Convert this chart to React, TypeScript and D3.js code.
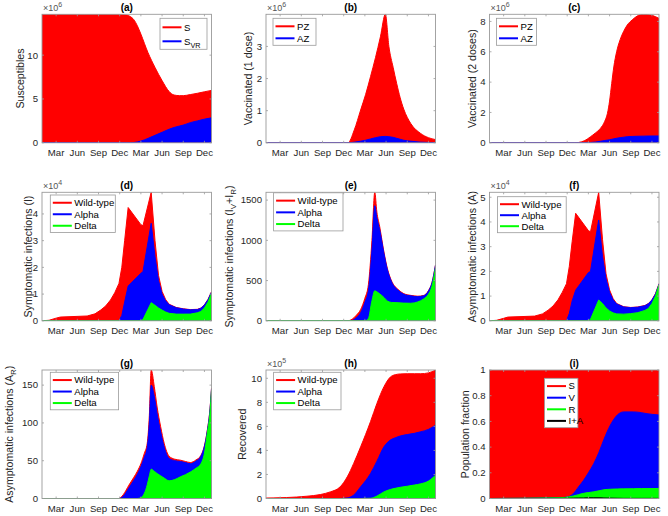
import React from "react";
import * as d3 from "d3";

// month offsets from Jan 2020
const monthTicks = [2, 5, 8, 11, 14, 17, 20, 23];
const monthLabels = ["Mar", "Jun", "Sep", "Dec", "Mar", "Jun", "Sep", "Dec"];

// (a) susceptibles, x10^6
const tA = [0, 6, 11, 12, 12.5, 13, 13.5, 14, 15, 16, 17, 18, 18.7, 19.5, 20, 21, 22, 23, 24];
const susS = [14.66, 14.66, 14.64, 14.58, 14.4, 14.05, 13.35, 12.4, 10.3, 8.6, 7.1, 5.85, 5.45, 5.38, 5.38, 5.5, 5.65, 5.82, 5.98];
const susSVR = [0, 0, 0, 0, 0, 0.03, 0.1, 0.2, 0.5, 0.85, 1.2, 1.55, 1.75, 1.92, 2.02, 2.3, 2.5, 2.7, 2.85];

// (b) vaccinated 1 dose, x10^6
const tB = [0, 11, 11.6, 12.5, 13.4, 14.1, 14.8, 15.5, 16.2, 16.9, 17.4, 18.0, 18.5, 19.0, 19.5, 20.5, 21.9, 23, 24];
const vac1PZ = [0, 0, 0, 0.4, 1.02, 1.5, 2.06, 2.65, 3.3, 4.0, 3.0, 2.35, 1.85, 1.4, 1.05, 0.6, 0.29, 0.16, 0.1];
const vac1AZ = [0, 0, 0, 0.02, 0.05, 0.08, 0.12, 0.16, 0.19, 0.2, 0.19, 0.17, 0.14, 0.11, 0.08, 0.05, 0.02, 0.01, 0.005];

// (c) vaccinated 2 doses, x10^6
const tC = [0, 12, 12.6, 13.5, 14.3, 15, 15.7, 16.3, 16.7, 17.0, 17.3, 17.6, 18.0, 18.5, 19.0, 19.5, 20.2, 20.9, 21.8, 23, 24];
const vac2PZ = [0, 0, 0.02, 0.15, 0.4, 0.65, 0.95, 1.4, 1.94, 2.75, 3.9, 5.0, 6.0, 6.8, 7.35, 7.76, 8.1, 8.35, 8.47, 8.4, 8.2];
const vac2AZ = [0, 0, 0, 0, 0.02, 0.05, 0.1, 0.15, 0.18, 0.2, 0.23, 0.26, 0.3, 0.34, 0.37, 0.4, 0.42, 0.43, 0.44, 0.45, 0.45];

// (d) symptomatic I, x10^4  and (f) asymptomatic A, x10^4
const tD = [0, 1, 2, 2.6, 6.4, 7.5, 8.3, 9.0, 9.7, 10.3, 10.9, 11.3, 11.7, 12.2, 14.0, 14.3, 15.46, 16.0, 16.5, 17.0, 17.5, 18.0, 19.0, 20.0, 21.0, 22.0, 22.5, 23.0, 23.5, 24];
const symWild = [0, 0.02, 0.1, 0.14, 0.18, 0.26, 0.4, 0.55, 0.78, 1.05, 1.4, 2.0, 3.0, 4.24, 3.6, 3.56, 4.81, 3.0, 1.7, 1.1, 0.8, 0.62, 0.5, 0.45, 0.42, 0.43, 0.48, 0.6, 0.8, 1.09];
const symAlpha = [0, 0, 0, 0, 0, 0, 0, 0, 0, 0, 0, 0.2, 0.7, 1.3, 1.78, 1.84, 3.65, 2.4, 1.5, 1.0, 0.75, 0.6, 0.49, 0.44, 0.41, 0.42, 0.47, 0.59, 0.79, 1.07];
const symDelta = [0, 0, 0, 0, 0, 0, 0, 0, 0, 0, 0, 0, 0, 0, 0, 0.05, 0.68, 0.58, 0.48, 0.4, 0.33, 0.28, 0.25, 0.25, 0.25, 0.3, 0.35, 0.48, 0.7, 1.02];
const asymWild = [0, 0.02, 0.1, 0.15, 0.19, 0.28, 0.43, 0.6, 0.85, 1.15, 1.5, 2.2, 3.2, 4.35, 3.65, 3.6, 5.2, 3.3, 1.9, 1.25, 0.9, 0.7, 0.57, 0.54, 0.56, 0.62, 0.7, 0.85, 1.1, 1.5];
const asymAlpha = [0, 0, 0, 0, 0, 0, 0, 0, 0, 0, 0, 0.3, 0.8, 1.24, 1.95, 2.0, 4.08, 2.6, 1.7, 1.15, 0.85, 0.68, 0.56, 0.53, 0.55, 0.61, 0.69, 0.84, 1.08, 1.48];
const asymDelta = [0, 0, 0, 0, 0, 0, 0, 0, 0, 0, 0, 0, 0, 0, 0, 0.06, 0.84, 0.7, 0.52, 0.4, 0.32, 0.28, 0.27, 0.29, 0.33, 0.42, 0.5, 0.7, 1.0, 1.45];

// (e) symptomatic IV+IR
const tE = [0, 11.5, 12.2, 12.8, 13.4, 14.0, 14.5, 15.0, 15.4, 15.7, 16.1, 16.7, 17.2, 17.8, 18.7, 19.5, 20.5, 21.5, 22.3, 23.0, 23.5, 24];
const symRWild = [0, 0, 20, 70, 140, 280, 450, 1000, 1597, 1350, 1170, 855, 645, 492, 390, 338, 316, 306, 315, 375, 475, 695];
const symRAlpha = [0, 0, 5, 40, 100, 230, 380, 880, 1430, 1280, 1130, 837, 630, 480, 380, 330, 310, 300, 310, 370, 470, 692];
const symRDelta = [0, 0, 0, 0, 0, 0, 30, 250, 373, 360, 335, 290, 245, 228, 225, 220, 218, 235, 270, 330, 430, 660];

// (g) asymptomatic AR
const tG = [0, 10.9, 11.5, 12.3, 13.0, 13.5, 14.0, 14.5, 14.9, 15.2, 15.46, 15.9, 16.3, 16.8, 17.3, 18.0, 18.8, 19.6, 20.3, 21.0, 21.8, 22.5, 23.0, 23.4, 23.8, 24];
const asymRWild = [0, 0, 5, 17.6, 28, 36, 46, 60, 73, 110, 170, 148, 121, 95, 73, 56, 52, 50.7, 49, 47.6, 51, 57, 70, 90, 120, 146];
const asymRAlpha = [0, 0, 3, 14, 24, 32, 42, 55, 68, 100, 150, 135, 112, 88, 68, 53, 50, 49, 47.5, 46, 49.5, 56, 69, 89, 119, 145];
const asymRDelta = [0, 0, 0, 0, 0, 0, 1, 7, 18, 30, 38.8, 36, 33, 30, 27, 23.4, 25, 28.7, 31.5, 35, 40, 46, 60, 86, 115, 143];

// (h) recovered, x10^5
const tH = [0, 1, 2.9, 5.8, 7.7, 9.1, 10.5, 11.5, 12.4, 13.4, 14.8, 15.7, 16.7, 17.6, 18.3, 19.0, 20.0, 21.0, 21.9, 23.0, 24];
const recWild = [0.04, 0.05, 0.08, 0.19, 0.33, 0.55, 0.97, 1.8, 2.9, 4.3, 6.4, 7.9, 9.3, 10.1, 10.3, 10.36, 10.38, 10.38, 10.38, 10.45, 10.69];
const recAlpha = [0, 0, 0, 0, 0, 0, 0, 0.05, 0.28, 0.97, 2.08, 3.1, 4.3, 4.86, 5.05, 5.2, 5.32, 5.42, 5.55, 5.75, 6.1];
const recDelta = [0, 0, 0, 0, 0, 0, 0, 0, 0, 0, 0.02, 0.2, 0.55, 0.75, 0.85, 0.93, 1.02, 1.12, 1.22, 1.45, 1.94];

// (i) population fraction
const tI = [0, 10, 11.2, 11.9, 12.6, 13.3, 14.0, 14.75, 15.5, 16.2, 17.1, 18.1, 19.0, 20.4, 21.5, 22.3, 24];
const popS = [1, 1, 1, 1, 1, 1, 1, 1, 1, 1, 1, 1, 1, 1, 1, 1, 1];
const popV = [0, 0.006, 0.014, 0.04, 0.09, 0.14, 0.2, 0.27, 0.36, 0.46, 0.57, 0.65, 0.674, 0.674, 0.668, 0.66, 0.65];
const popR = [0, 0.006, 0.012, 0.02, 0.03, 0.04, 0.046, 0.052, 0.06, 0.068, 0.072, 0.074, 0.075, 0.076, 0.077, 0.077, 0.078];
const popIA = [0, 0.001, 0.002, 0.003, 0.004, 0.004, 0.005, 0.005, 0.005, 0.004, 0.003, 0.002, 0.001, 0.001, 0.001, 0.001, 0.001];

const RED = "#ff0000";
const BLUE = "#0000ff";
const GREEN = "#00ff00";
const BLACK = "#000000";
const AXIS = "#9a9a9a";
const FONT = "'Liberation Sans', Arial, Helvetica, sans-serif";

const colX = [42, 266, 489.5];
const rowY = [14.3, 192.3, 370];
const PW = 169.5;
const PH = 128.5;

type Part = { text: string; sub?: boolean };
type Series = { name: Part[]; color: string; t: number[]; v: number[] };
type Panel = {
  id: string;
  col: number;
  row: number;
  yTicks: number[];
  yMax?: number;
  exp?: number;
  ylabel: Part[];
  labelGap: number;
  curve: d3.CurveFactory;
  series: Series[];
  legend: { dx: number; dy: number; w: number; rowH: number };
};

const strains = (t: number[], w: number[], a: number[], d: number[]): Series[] => [
  { name: [{ text: "Wild-type" }], color: RED, t, v: w },
  { name: [{ text: "Alpha" }], color: BLUE, t, v: a },
  { name: [{ text: "Delta" }], color: GREEN, t, v: d },
];

const panels: Panel[] = [
  {
    id: "(a)", col: 0, row: 0, yTicks: [0, 5, 10], exp: 6,
    ylabel: [{ text: "Susceptibles" }], labelGap: 22, curve: d3.curveMonotoneX,
    series: [
      { name: [{ text: "S" }], color: RED, t: tA, v: susS },
      { name: [{ text: "S" }, { text: "VR", sub: true }], color: BLUE, t: tA, v: susSVR },
    ],
    legend: { dx: 118, dy: 4, w: 47, rowH: 14 },
  },
  {
    id: "(b)", col: 1, row: 0, yTicks: [0, 1, 2, 3], exp: 6,
    ylabel: [{ text: "Vaccinated (1 dose)" }], labelGap: 17.5, curve: d3.curveMonotoneX,
    series: [
      { name: [{ text: "PZ" }], color: RED, t: tB, v: vac1PZ },
      { name: [{ text: "AZ" }], color: BLUE, t: tB, v: vac1AZ },
    ],
    legend: { dx: 7, dy: 4, w: 43, rowH: 12 },
  },
  {
    id: "(c)", col: 2, row: 0, yTicks: [0, 2, 4, 6, 8], exp: 6,
    ylabel: [{ text: "Vaccinated (2 doses)" }], labelGap: 17, curve: d3.curveMonotoneX,
    series: [
      { name: [{ text: "PZ" }], color: RED, t: tC, v: vac2PZ },
      { name: [{ text: "AZ" }], color: BLUE, t: tC, v: vac2AZ },
    ],
    legend: { dx: 7, dy: 4, w: 40, rowH: 12 },
  },
  {
    id: "(d)", col: 0, row: 1, yTicks: [0, 1, 2, 3, 4], exp: 4,
    ylabel: [{ text: "Symptomatic infections (I)" }], labelGap: 14, curve: d3.curveLinear,
    series: strains(tD, symWild, symAlpha, symDelta),
    legend: { dx: 8.3, dy: 2.7, w: 65, rowH: 11.5 },
  },
  {
    id: "(e)", col: 1, row: 1, yTicks: [0, 500, 1000, 1500],
    ylabel: [{ text: "Symptomatic infections (I" }, { text: "V", sub: true }, { text: "+I" }, { text: "R", sub: true }, { text: ")" }],
    labelGap: 37, curve: d3.curveMonotoneX,
    series: strains(tE, symRWild, symRAlpha, symRDelta),
    legend: { dx: 7.6, dy: 0.5, w: 69.4, rowH: 11.7 },
  },
  {
    id: "(f)", col: 2, row: 1, yTicks: [0, 1, 2, 3, 4, 5], exp: 4,
    ylabel: [{ text: "Asymptomatic infections (A)" }], labelGap: 17, curve: d3.curveLinear,
    series: strains(tD, asymWild, asymAlpha, asymDelta),
    legend: { dx: 8, dy: 4.4, w: 68.7, rowH: 11 },
  },
  {
    id: "(g)", col: 0, row: 2, yTicks: [0, 50, 100, 150],
    ylabel: [{ text: "Asymptomatic infections (A" }, { text: "R", sub: true }, { text: ")" }],
    labelGap: 33, curve: d3.curveMonotoneX,
    series: strains(tG, asymRWild, asymRAlpha, asymRDelta),
    legend: { dx: 8.3, dy: 2.3, w: 68.3, rowH: 11.5 },
  },
  {
    id: "(h)", col: 1, row: 2, yTicks: [0, 2, 4, 6, 8, 10], exp: 5,
    ylabel: [{ text: "Recovered" }], labelGap: 23.5, curve: d3.curveMonotoneX,
    series: strains(tH, recWild, recAlpha, recDelta),
    legend: { dx: 7.6, dy: 2.3, w: 67.4, rowH: 11.5 },
  },
  {
    id: "(i)", col: 2, row: 2, yTicks: [0, 0.2, 0.4, 0.6, 0.8, 1], yMax: 1,
    ylabel: [{ text: "Population fraction" }], labelGap: 24.5, curve: d3.curveMonotoneX,
    series: [
      { name: [{ text: "S" }], color: RED, t: tI, v: popS },
      { name: [{ text: "V" }], color: BLUE, t: tI, v: popV },
      { name: [{ text: "R" }], color: GREEN, t: tI, v: popR },
      { name: [{ text: "I+A" }], color: BLACK, t: tI, v: popIA },
    ],
    legend: { dx: 55, dy: 8.3, w: 33.4, rowH: 11.6 },
  },
];

function spans(parts: Part[]) {
  let shift = 0;
  return parts.map((p, i) => {
    const target = p.sub ? 3 : 0;
    const dy = target - shift;
    shift = target;
    return (
      <tspan key={i} dy={dy !== 0 ? dy : undefined} fontSize={p.sub ? "0.75em" : undefined}>
        {p.text}
      </tspan>
    );
  });
}

function PanelView({ p }: { p: Panel }) {
  const left = colX[p.col];
  const top = rowY[p.row];
  const yMax = p.yMax ?? (d3.max(p.series.flatMap((s) => s.v)) as number);
  const x = d3.scaleLinear().domain([0, 24]).range([left, left + PW]);
  const y = d3.scaleLinear().domain([0, yMax]).range([top + PH, top]);
  const clipId = "clip" + p.id.replace(/[()]/g, "");
  const fmt = (v: number) => (Number.isInteger(v) ? String(v) : String(+v.toFixed(1)));
  const lg = p.legend;
  const lx = left + lg.dx;
  const ly = top + lg.dy;
  const lh = p.series.length * lg.rowH + 3;

  return (
    <g>
      <clipPath id={clipId}>
        <rect x={left} y={top} width={PW} height={PH} />
      </clipPath>
      <g clipPath={`url(#${clipId})`}>
        {p.series.map((s, k) => {
          const area = d3
            .area<number>()
            .x((_, i) => x(s.t[i]))
            .y0(y(0))
            .y1((d) => y(d))
            .curve(p.curve);
          return (
            <path key={k} d={area(s.v) || ""} fill={s.color} stroke={s.color} strokeWidth={1} strokeLinejoin="round" />
          );
        })}
      </g>
      {/* axes box and ticks */}
      <rect x={left} y={top} width={PW} height={PH} fill="none" stroke={AXIS} strokeWidth={0.9} />
      {monthTicks.map((m, i) => (
        <g key={"x" + i}>
          <line x1={x(m)} x2={x(m)} y1={top + PH} y2={top + PH - 2} stroke={AXIS} strokeWidth={0.8} />
          <line x1={x(m)} x2={x(m)} y1={top} y2={top + 2} stroke={AXIS} strokeWidth={0.8} />
          <text x={x(m)} y={top + PH + 13} textAnchor="middle" fontSize={9.6} fill="#262626">
            {monthLabels[i]}
          </text>
        </g>
      ))}
      {p.yTicks.map((v, i) => (
        <g key={"y" + i}>
          <line x1={left} x2={left + 2} y1={y(v)} y2={y(v)} stroke={AXIS} strokeWidth={0.8} />
          <line x1={left + PW} x2={left + PW - 2} y1={y(v)} y2={y(v)} stroke={AXIS} strokeWidth={0.8} />
          <text x={left - 4} y={y(v)} dy="0.35em" textAnchor="end" fontSize={9.6} fill="#262626">
            {fmt(v)}
          </text>
        </g>
      ))}
      {p.exp !== undefined && (
        <text x={left + 1} y={top - 3} fontSize={9} fill="#555">
          {"\u00d710"}
          <tspan dy={-4} fontSize={7}>
            {p.exp}
          </tspan>
        </text>
      )}
      <text x={left + PW / 2} y={top - 3} textAnchor="middle" fontSize={10} fontWeight="bold" fill="#000">
        {p.id}
      </text>
      <text
        transform={`translate(${left - p.labelGap},${top + PH / 2}) rotate(-90)`}
        textAnchor="middle"
        dy="0.35em"
        fontSize={10.6}
        fill="#262626"
      >
        {spans(p.ylabel)}
      </text>
      {/* legend */}
      <rect x={lx} y={ly} width={lg.w} height={lh} fill="#fff" stroke={AXIS} strokeWidth={0.8} />
      {p.series.map((s, k) => {
        const cy = ly + 2 + lg.rowH * (k + 0.5);
        return (
          <g key={"l" + k}>
            <line x1={lx + 2.5} x2={lx + 21.5} y1={cy} y2={cy} stroke={s.color} strokeWidth={2} />
            <text x={lx + 24} y={cy} dy="0.35em" fontSize={9.6} fill="#000">
              {spans(s.name)}
            </text>
          </g>
        );
      })}
    </g>
  );
}

export default function App() {
  return (
    <div style={{ position: "absolute", left: 0, top: 0 }}>
      <svg width={668} height={516} fontFamily={FONT} style={{ display: "block", background: "#fff" }}>
        {panels.map((p) => (
          <PanelView key={p.id} p={p} />
        ))}
      </svg>
    </div>
  );
}
